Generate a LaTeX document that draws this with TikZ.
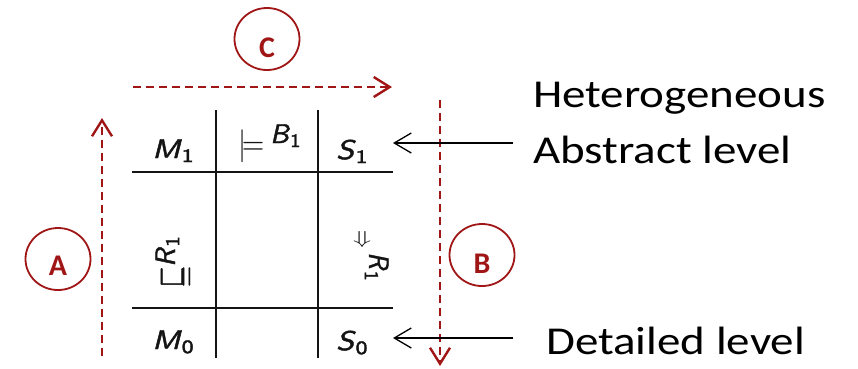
\documentclass[tikz,border=0pt]{standalone}
\usepackage{fontspec}
\usepackage{graphicx}
\newfontfamily\calfont{Carlito}
\newfontfamily\cellfont{Latin Modern Sans}[FakeBold=1.6]
\newfontfamily\symfont{Latin Modern Math}[FakeBold=1.4]
\usetikzlibrary{arrows.meta,shapes.geometric}
\definecolor{dred}{RGB}{160,22,22}
\definecolor{ink}{RGB}{20,20,20}
\newcommand{\hs}[1]{\scalebox{1.19}[1]{#1}}
\newcommand{\sub}[1]{\raisebox{-1.5pt}{\fontsize{7}{7}\selectfont #1}}
\newcommand{\cellt}[1]{\scalebox{3.2}[2.7]{#1}}
\tikzset{
  gridline/.style={ink, line width=1.3pt},
  redarrow/.style={dred, line width=2.7pt, dash pattern=on 8pt off 5pt,
     -{Straight Barb[length=16pt,width=20pt,line width=2.4pt]}},
  blackarrow/.style={black, line width=1.3pt,
     -{Straight Barb[length=17pt,width=20pt,line width=1.3pt]}},
  badge/.style={ellipse, draw=dred, line width=1.8pt, minimum width=65pt,
     minimum height=62pt, inner sep=0pt},
  badgeletter/.style={text=dred, font=\calfont\bfseries\fontsize{30}{30}\selectfont, inner sep=0pt},
  cell/.style={text=ink, inner sep=0pt, font=\cellfont\fontsize{10}{12}\selectfont},
  sym/.style={text=ink, inner sep=0pt, font=\symfont\fontsize{10}{12}\selectfont},
  msym/.style={text=ink, inner sep=0pt, font=\fontsize{10}{12}\selectfont},
  bigtxt/.style={inner sep=0pt, font=\calfont\fontsize{39.5}{40}\selectfont}
}
\begin{document}
\begin{tikzpicture}[x=1pt,y=-1pt]
\useasboundingbox (0,0) rectangle (858,368);
% grid
\draw[gridline] (132,172) -- (393,172);
\draw[gridline] (132,308) -- (393,308);
\draw[gridline] (216,110) -- (216,358);
\draw[gridline] (318,110) -- (318,358);
% cells
\node[cell, anchor=base west] (M1) at (152,158) {\cellt{\textit{M}\sub{1}}};
\node[cell, anchor=base west] (S1) at (336,159) {\cellt{\textit{S}\sub{1}}};
\node[cell, anchor=base west] (M0) at (152,349) {\cellt{\textit{M}\sub{0}}};
\node[cell, anchor=base west] (S0) at (336,350) {\cellt{\textit{S}\sub{0}}};
% satisfaction
\node[msym] (sat) at (251.5,146) {\scalebox{2.9}[3.3]{$\models$}};
\node[cell, anchor=base west] (satB) at (270,143) {\scalebox{2.8}[2.7]{\textit{B}\sub{1}}};
% refinement (rotated)
\node[sym, rotate=90] (sq) at (172,276.5) {\scalebox{2.6}[3.8]{⊏}};
\node[sym, rotate=90] (sqeq) at (188.5,276.5) {\scalebox{2.7}[3.0]{=}};
\node[cell, rotate=90, anchor=base west] (refR) at (175,267) {\scalebox{2.8}[2.8]{\textit{R}\sub{1}}};
% implication (rotated)
\node[msym, rotate=-90] (impl) at (360,239) {\scalebox{1.8}[3.0]{$\Rightarrow$}};
\node[cell, rotate=-90, anchor=base west] (implR) at (369,252) {\scalebox{2.6}[2.8]{\textit{R}\sub{1}}};
% badges
\node[badge, label={[badgeletter, yshift=-9pt]center:C}] (cC) at (267,39) {};
\node[badge, label={[badgeletter, yshift=-7pt]center:A}] (cA) at (58,259) {};
\node[badge, label={[badgeletter, yshift=-9pt]center:B}] (cB) at (482,255) {};
% red dashed arrows
\coordinate (cs) at (133,87);
\coordinate (ce) at (392,87);
\draw[redarrow] (cs) -- (ce);
\coordinate (as) at (102,356);
\coordinate (ae) at (102,118);
\draw[redarrow] (as) -- (ae);
\coordinate (bs) at (440,100);
\coordinate (be) at (440,366);
\draw[redarrow] (bs) -- (be);
% labels
\node[bigtxt, anchor=base west] (het) at (533,107) {\hs{Heterogeneous}};
\node[bigtxt, anchor=base west] (abs) at (533,163) {\hs{Abstract level}};
\node[bigtxt, anchor=base west] (det) at (546,354) {\hs{Detailed level}};
% black arrows
\coordinate (absin) at (513,143);
\coordinate (s1in) at (393,143);
\draw[blackarrow] (absin) -- (s1in);
\coordinate (detin) at (513,338);
\coordinate (s0in) at (393,338);
\draw[blackarrow] (detin) -- (s0in);
\end{tikzpicture}
\end{document}
